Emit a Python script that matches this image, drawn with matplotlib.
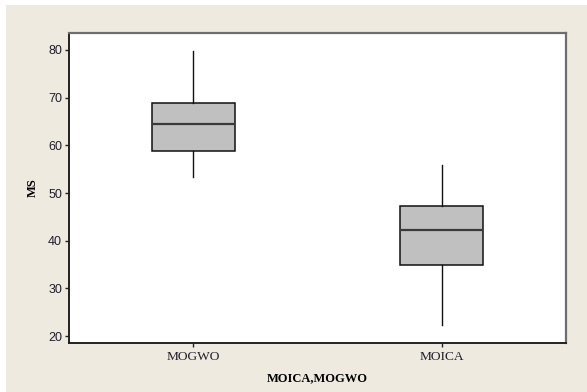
import matplotlib
matplotlib.use("Agg")
import matplotlib.pyplot as plt
from matplotlib.patches import Rectangle

# box summaries per group (read as five-number summaries)
groups = ["MOGWO", "MOICA"]
whisker_lo = [53.3, 22.3]
q1 = [58.9, 34.9]
median = [64.4, 42.2]
q3 = [68.85, 47.2]
whisker_hi = [79.8, 55.9]
yticks = [20, 30, 40, 50, 60, 70, 80]

plt.rcParams["font.family"] = ["Liberation Serif", "DejaVu Serif"]

fig = plt.figure(figsize=(5.87, 3.92), dpi=100)
fig.patch.set_facecolor("white")
# beige panel behind the plot, offset slightly from the top-left edge
fig.patches.append(Rectangle((6 / 587, 0), 1, 1 - 5 / 392, transform=fig.transFigure,
                             facecolor="#EEEAE0", edgecolor="none", zorder=-1))

ax = fig.add_axes([69 / 587, 1 - 343 / 392, 497 / 587, 310 / 392])
ax.set_facecolor("white")

stats = [dict(whislo=lo, q1=a, med=m, q3=b, whishi=hi, label=g, fliers=[])
         for g, lo, a, m, b, hi in zip(groups, whisker_lo, q1, median, q3, whisker_hi)]
ax.bxp(stats, positions=[1, 2], widths=0.334, patch_artist=True, showcaps=False,
       boxprops=dict(facecolor="#C0C0C0", edgecolor="#111111", linewidth=1.1),
       medianprops=dict(color="#3a3a3a", linewidth=1.6),
       whiskerprops=dict(color="#111111", linewidth=1.0))

ax.set_xlim(0.5, 2.5)
ax.set_ylim(18.54, 83.56)
ax.set_yticks(yticks)
ax.tick_params(axis="both", direction="out", length=3, width=1, color="#222222",
               labelcolor="#1e1e2a", pad=2)
ax.tick_params(axis="x", labelsize=9.6, pad=3)
ax.tick_params(axis="y", labelsize=9)
for lab in ax.get_yticklabels():
    lab.set_fontfamily(["Liberation Sans", "DejaVu Sans"])

for side in ["left", "bottom"]:
    ax.spines[side].set_color("#222222")
    ax.spines[side].set_linewidth(1.4)
for side in ["top", "right"]:
    ax.spines[side].set_color("#6e6e6e")
    ax.spines[side].set_linewidth(1.6)

ax.set_xlabel("MOICA,MOGWO", fontsize=9, fontweight="bold", labelpad=6)
ax.set_ylabel("MS", fontsize=9, fontweight="bold", labelpad=7)

fig.savefig("out.png", dpi=100)
